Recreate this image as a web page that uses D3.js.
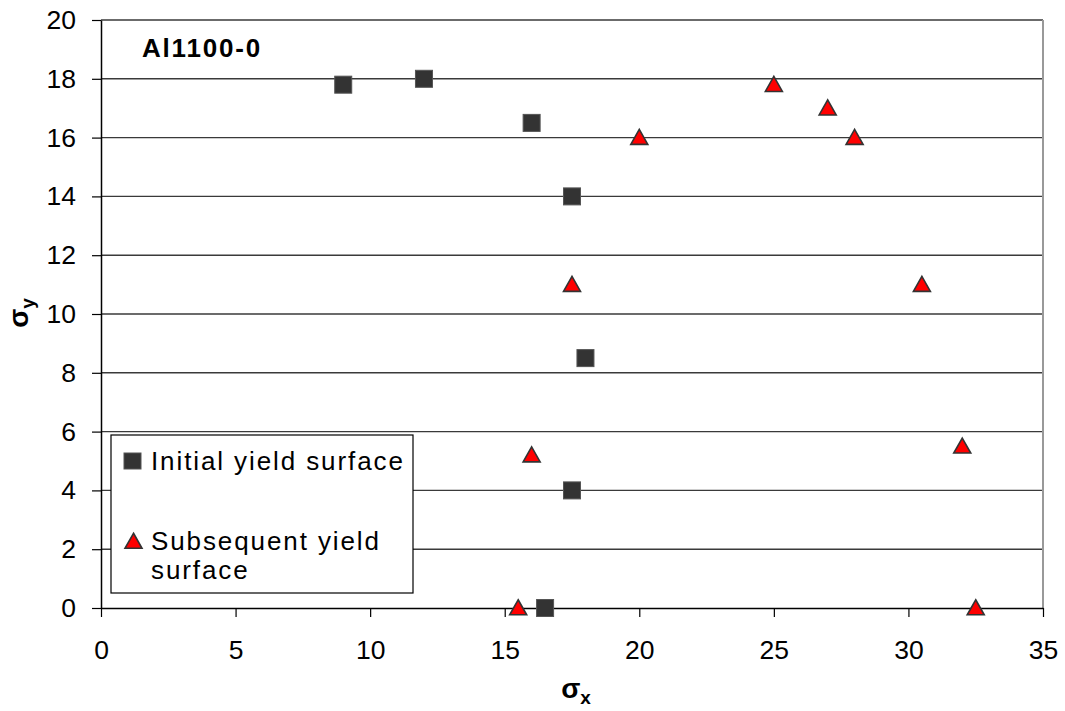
<!DOCTYPE html>
<html>
<head>
<meta charset="utf-8">
<script src="https://cdn.jsdelivr.net/npm/d3@7"></script>
<style>
  body { margin: 0; background: #fff; }
  svg { display: block; font-family: Arial, "Liberation Sans", sans-serif; }
</style>
</head>
<body>
<svg id="chart" width="1065" height="711"></svg>
<script>
// Yield surface measurements for Al1100-0
const initialX = [9, 12, 16, 17.5, 18, 17.5, 16.5];
const initialY = [17.8, 18, 16.5, 14, 8.5, 4, 0];
const subsequentX = [15.5, 16, 17.5, 20, 25, 27, 28, 30.5, 32, 32.5];
const subsequentY = [0, 5.2, 11, 16, 17.8, 17, 16, 11, 5.5, 0];
const xTicks = [0, 5, 10, 15, 20, 25, 30, 35];
const yTicks = [0, 2, 4, 6, 8, 10, 12, 14, 16, 18, 20];
const seriesNames = ["Initial yield surface", "Subsequent yield", "surface"];
const chartTitle = "Al1100-0";

const svg = d3.select("#chart");
const plotLeft = 101, plotRight = 1043, plotTop = 20, plotBottom = 608;

const x = d3.scaleLinear().domain([0, 35]).range([plotLeft, plotRight]);
const y = d3.scaleLinear().domain([0, 20]).range([plotBottom, plotTop]);

// horizontal gridlines
svg.append("g").selectAll("line").data(yTicks.filter(d => d > 0)).join("line")
  .attr("x1", plotLeft).attr("x2", plotRight)
  .attr("y1", d => y(d)).attr("y2", d => y(d))
  .attr("stroke", "#3a3a3a").attr("stroke-width", 1.4);

// right frame edge
svg.append("line")
  .attr("x1", plotRight).attr("x2", plotRight).attr("y1", plotTop).attr("y2", plotBottom)
  .attr("stroke", "#999").attr("stroke-width", 2);

// axes
const xAxis = svg.append("g").attr("transform", `translate(0,${plotBottom})`)
  .call(d3.axisBottom(x).tickValues(xTicks).tickSize(9).tickPadding(23).tickSizeOuter(0));
const yAxis = svg.append("g").attr("transform", `translate(${plotLeft},0)`)
  .call(d3.axisLeft(y).tickValues(yTicks).tickSize(9).tickPadding(16).tickSizeOuter(0));
[xAxis, yAxis].forEach(a => {
  a.select(".domain").attr("stroke", "#000").attr("stroke-width", 1.5);
  a.selectAll(".tick line").attr("stroke", "#000").attr("stroke-width", 1.2);
  a.selectAll(".tick text").attr("fill", "#000")
    .style("font-size", "26.5px").style("font-family", "Arial, 'Liberation Sans', sans-serif");
});

// markers
const sq = 17;
svg.append("g").selectAll("rect").data(initialX.map((v, i) => [v, initialY[i]])).join("rect")
  .attr("x", d => x(d[0]) - sq / 2).attr("y", d => y(d[1]) - sq / 2)
  .attr("width", sq).attr("height", sq)
  .attr("fill", "#333").attr("stroke", "#555").attr("stroke-width", 1);

const tri = (cx, cy) => {
  const w = 17, h = 15;
  return `M${cx},${cy - h * 0.55} L${cx + w / 2},${cy + h * 0.45} L${cx - w / 2},${cy + h * 0.45} Z`;
};
svg.append("g").selectAll("path").data(subsequentX.map((v, i) => [v, subsequentY[i]])).join("path")
  .attr("d", d => tri(x(d[0]), y(d[1])))
  .attr("fill", "#ff0000").attr("stroke", "#333").attr("stroke-width", 1.6)
  .attr("stroke-linejoin", "miter");

// title inside plot
svg.append("text").attr("x", 142).attr("y", 57)
  .style("font-size", "26px").style("font-weight", "bold").style("letter-spacing", "1.8px")
  .text(chartTitle);

// axis titles
const xt = svg.append("text").attr("x", 576).attr("y", 698).attr("text-anchor", "middle")
  .style("font-size", "28px").style("font-weight", "bold");
xt.append("tspan").text("σ");
xt.append("tspan").attr("dy", 6).style("font-size", "19px").text("x");

const yt = svg.append("text").attr("transform", "translate(28,313) rotate(-90)")
  .attr("text-anchor", "middle")
  .style("font-size", "28px").style("font-weight", "bold");
yt.append("tspan").text("σ");
yt.append("tspan").attr("dy", 6).style("font-size", "19px").text("y");

// legend
const lg = svg.append("g");
lg.append("rect").attr("x", 111).attr("y", 435).attr("width", 302).attr("height", 158)
  .attr("fill", "#fff").attr("stroke", "#000").attr("stroke-width", 1.2);
lg.append("rect").attr("x", 124).attr("y", 453).attr("width", 17).attr("height", 16)
  .attr("fill", "#333").attr("stroke", "#555");
lg.append("path").attr("d", tri(133.5, 541.5))
  .attr("fill", "#ff0000").attr("stroke", "#333").attr("stroke-width", 1.6);
const lgText = [[seriesNames[0], 470], [seriesNames[1], 550], [seriesNames[2], 579]];
lg.selectAll("text").data(lgText).join("text")
  .attr("x", 151).attr("y", d => d[1])
  .style("font-size", "26px").style("letter-spacing", "1.9px")
  .text(d => d[0]);
</script>
</body>
</html>
